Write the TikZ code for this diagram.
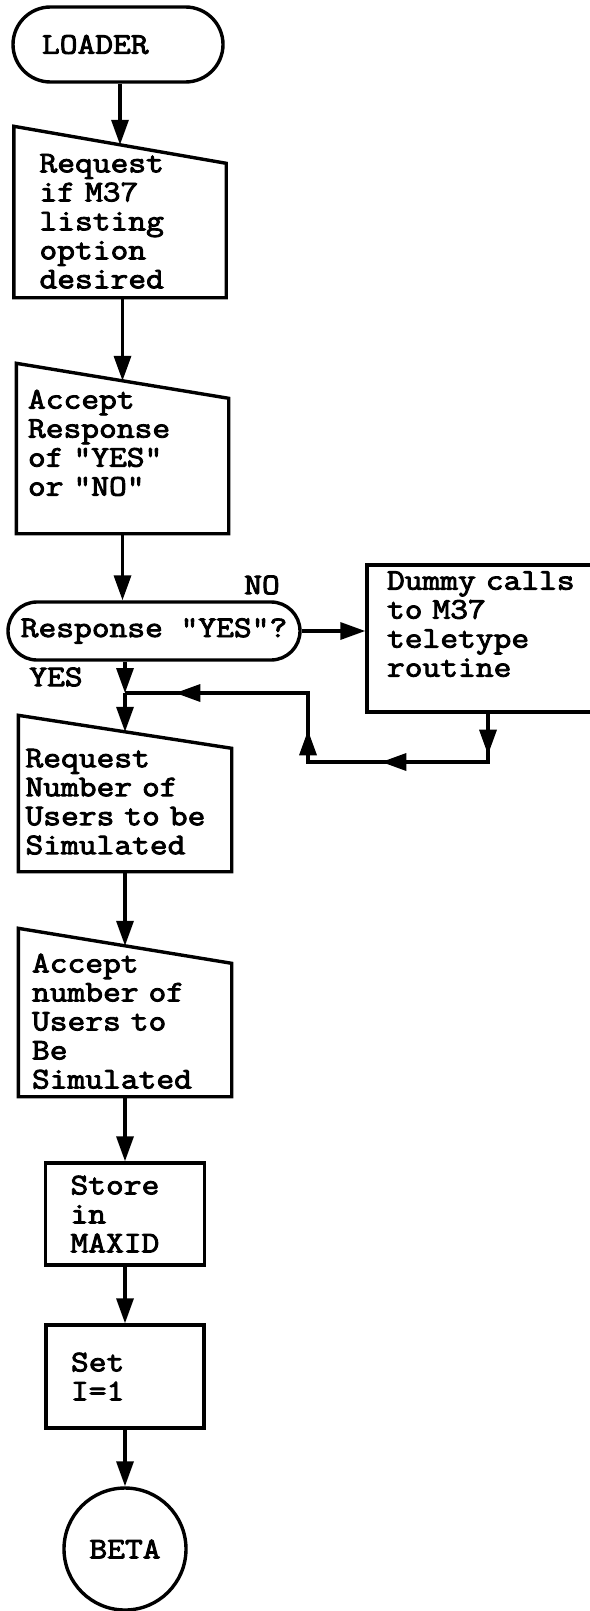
\documentclass[tikz,border=0pt]{standalone}
\usepackage{fontspec}
\newfontfamily\flowfont[FakeStretch=1.15,FakeBold=3]{Latin Modern Mono}
\usetikzlibrary{arrows.meta,decorations.markings}
\tikzset{
    terminal/.style={draw,rectangle,rounded corners=#1,inner sep=2pt},
    manin/.style={rectangle,align=left,inner ysep=0pt},
    procbox/.style={draw,rectangle,align=left,inner ysep=0pt},
    connector/.style={draw,circle,inner sep=0pt,minimum size=61pt},
    loopback/.style={postaction={decorate},decoration={markings,
        mark=at position 20.5pt with {\arrow{>}},
        mark=at position 77.5pt with {\arrow{>}},
        mark=at position 130pt with {\arrow{>}},
        mark=at position 215pt with {\arrow{>}}}}
}
\begin{document}
\begin{tikzpicture}[x=0.5pt,y=-0.5pt,>={Triangle[length=12.5pt,width=8.5pt]},line width=1.7pt,
    font=\flowfont\fontsize{15pt}{14.5pt}\selectfont]
    \useasboundingbox (0,0) rectangle (589,1611);
    \node[terminal=18.75pt,minimum width=105pt,minimum height=37.5pt,text width=76pt,inner xsep=14.5pt] (ld) at (118,44.5) {LOADER};
    \node[manin,text width=80.5pt,inner xsep=12pt,minimum height=74.75pt] (b1) at (120,221.25) {Request\\if M37\\listing\\option\\desired};
    \node[manin,text width=94.5pt,inner xsep=5pt,minimum height=74.75pt] (b2) at (122.5,457.25) {Accept\\Response\\of "YES"\\or "NO"\\~};
    \node[terminal=14.5pt,minimum width=146pt,minimum height=29pt] (tm) at (154,631) {Response "YES"?};
    \node[procbox,text width=101pt,inner xsep=10pt,minimum height=73.5pt] (dm) at (488,638.5) {Dummy calls\\to M37\\teletype\\routine\\~};
    \node[manin,text width=99.5pt,inner xsep=2.75pt,minimum height=68.25pt] (b3) at (125,801.75) {Request\\Number of\\Users to be\\Simulated};
    \node[manin,text width=93pt,inner xsep=6pt,minimum height=73.75pt] (b4) at (125,1021.25) {Accept\\number of\\Users to\\Be\\Simulated};
    \node[procbox,text width=54.5pt,inner xsep=12.5pt,minimum height=51pt] (b5) at (125,1214) {Store\\in\\MAXID};
    \node[procbox,text width=54pt,inner xsep=12.5pt,minimum height=51.5pt] (b6) at (125,1376.5) {Set\\I=1};
    \node[connector] (bt) at (125,1549) {BETA};
    \node (no) at (262,585) {NO};
    \node (yes) at (56,677) {YES};
    \foreach \n/\s in {b1/9.25pt,b2/8.75pt,b3/8.25pt,b4/8.75pt}
    {
        \draw (\n.south west)--([yshift=\s]\n.north west)--([yshift=-\s]\n.north east)--(\n.south east)--cycle;
    }
    \coordinate (jn) at (125,693);
    \coordinate (c1) at (488,762);
    \coordinate (c2) at (308,762);
    \coordinate (c3) at (308,693);
    \draw[->] (b1.north |- ld.south)--(b1.north);
    \draw[->] (b2.north |- b1.south)--(b2.north);
    \draw[->] (b2.south)--(b2.south |- tm.north);
    \draw[->] (jn |- tm.south)--(jn);
    \draw[->] (jn)--(b3.north);
    \draw[->] (b3.south)--(b4.north);
    \draw[->] (b4.south)--(b5.north);
    \draw[->] (b5.south)--(b6.north);
    \draw[->] (b6.south)--(bt.north);
    \draw[->] (tm.east)--(tm.east -| dm.west);
    \draw[loopback] (dm.south)--(c1)--(c2)--(c3)--(jn);
\end{tikzpicture}
\end{document}
